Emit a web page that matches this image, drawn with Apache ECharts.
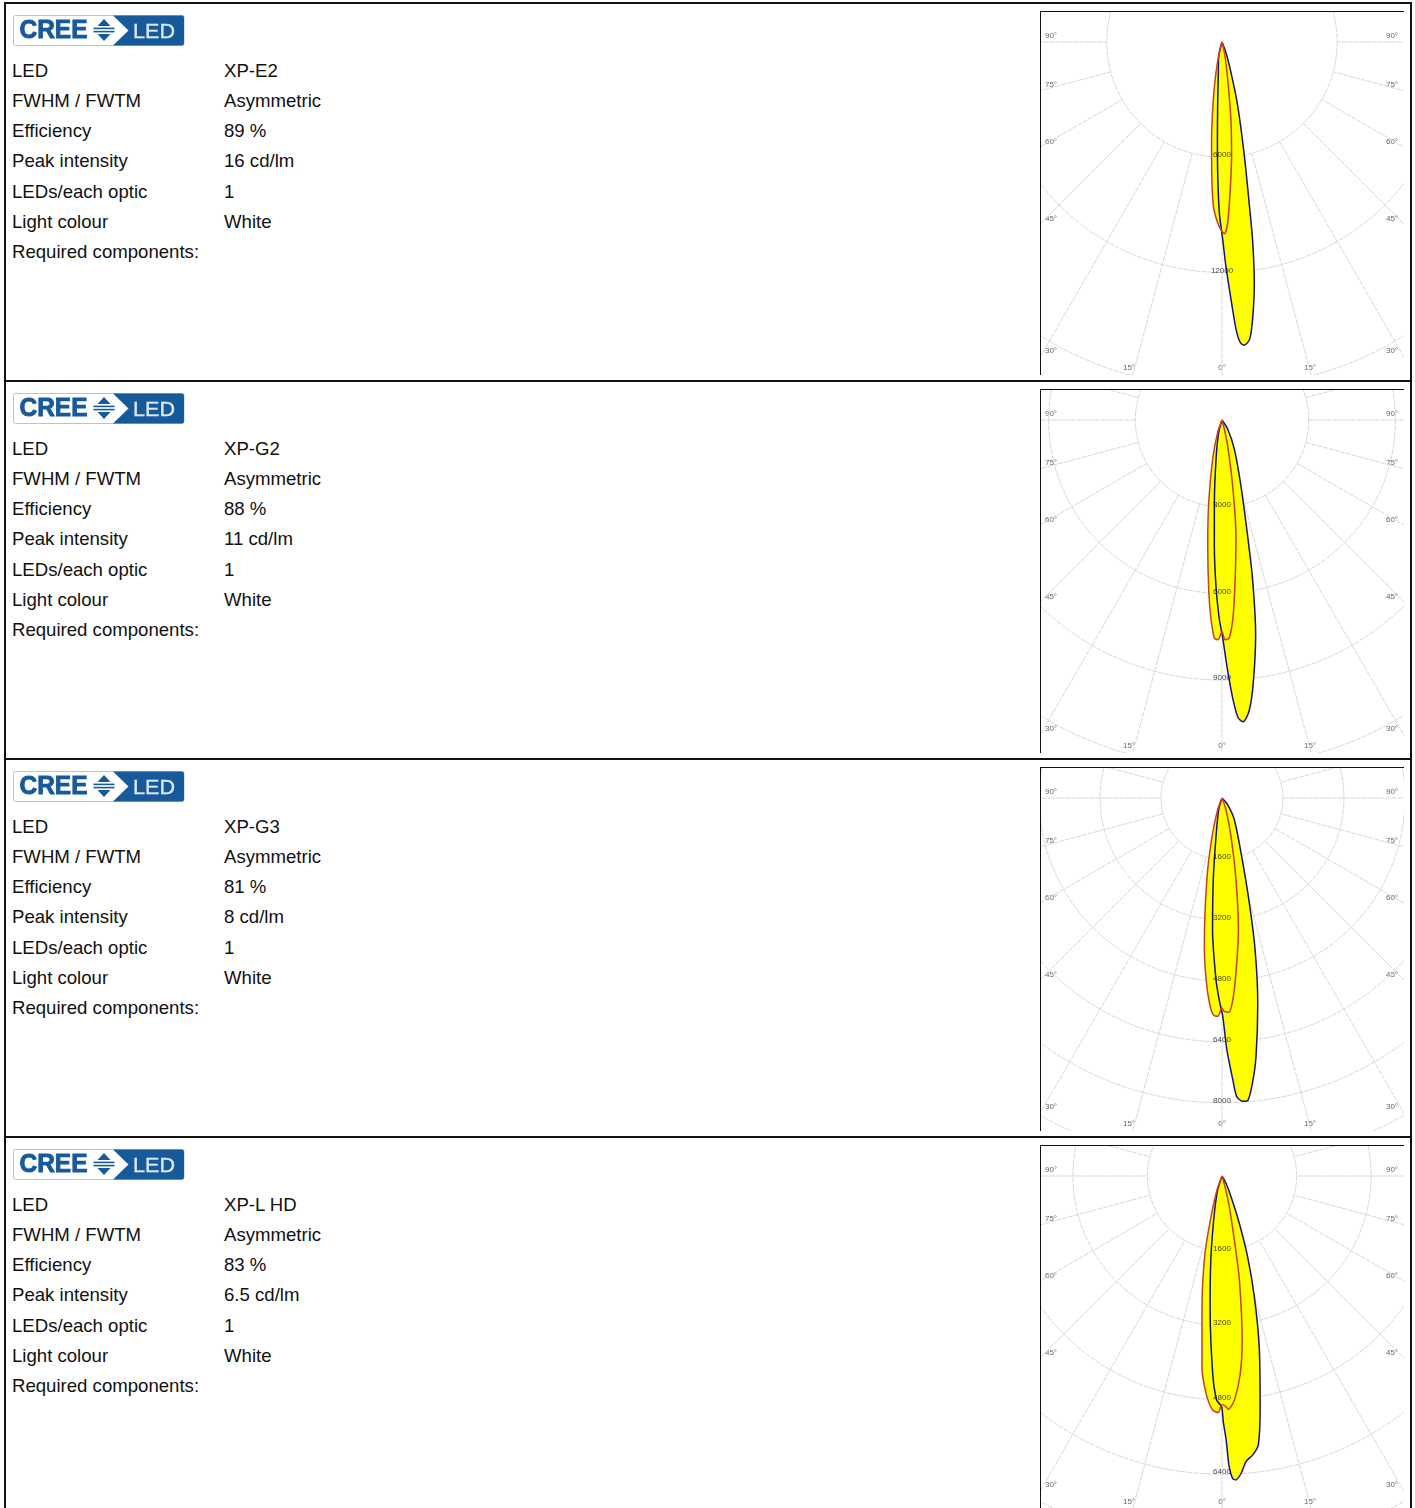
<!DOCTYPE html>
<html>
<head>
<meta charset="utf-8">
<script src="https://cdn.jsdelivr.net/npm/echarts@6/dist/echarts.min.js"></script>
<style>
html,body{margin:0;padding:0;background:#fff;width:1415px;height:1508px;overflow:hidden;font-family:"Liberation Sans",Arial,sans-serif;color:#111}
.abs{position:absolute}
.rule{position:absolute;background:#111}
.t{position:absolute;font-size:18.6px;line-height:20px;white-space:nowrap}
.chart{position:absolute;width:363px;height:363px;border-left:1px solid #111;border-top:1px solid #111;overflow:hidden;background:#fff}
.chart canvas{filter:blur(0.35px)}
</style>
</head>
<body>
<div id="page"></div>
<script>
// ---- table text ----
const fieldLabels = ["LED","FWHM / FWTM","Efficiency","Peak intensity","LEDs/each optic","Light colour","Required components:"];
const ledNames = ["XP-E2","XP-G2","XP-G3","XP-L HD"];
const fwhm = ["Asymmetric","Asymmetric","Asymmetric","Asymmetric"];
const efficiency = ["89 %","88 %","81 %","83 %"];
const peakIntensity = ["16 cd/lm","11 cd/lm","8 cd/lm","6.5 cd/lm"];
const ledsPerOptic = ["1","1","1","1"];
const lightColour = ["White","White","White","White"];

// ---- polar axes ----
const ringStep = [6000,3000,1600,1600];
const ringMax = [24000,15000,11200,9600];
const axisPxPerCd = [0.0192,0.0289,0.0381,0.0466];
const firstRing = [6000,3000,1600,1600];
const ringLabels = [[6000,12000],[3000,6000,9000],[1600,3200,4800,6400,8000],[1600,3200,4800,6400]];

// ---- candela curves: [cd, angle deg] ----
const blue1Angle=[-30,-13.4,-6.8,-3.9,-2.7,-1.9,-0.9,0.2,1.0,2.0,2.8,3.5,4.2,5.3,6.3,7.65,8.8,9.5,11.1,13.8,16.4,20.6,30];
const blue1Cd=[0,746,1615,3333,5069,6805,8888,10277,11683,13402,14982,15693,15832,15555,14530,12638,10399,8663,6059,3437,1667,590,0];
const red1Angle=[-30,-13.4,-11.1,-8.6,-6.1,-4.5,-3.0,-1.4,-0.1,0.8,1.8,3.2,4.8,6.4,8.2,12.1,30];
const red1Cd=[0,746,1632,3021,5104,6822,8558,9409,9843,9982,9409,7690,5954,4236,2309,746,0];

const blue2Angle=[-30,-15.1,-8.7,-5.3,-3.5,-2.0,-0.8,0.2,1.2,2.2,3.1,4.0,5.3,6.7,8.9,10.9,12.5,16.1,23.0,32.2,45];
const blue2Cd=[0,437,1356,2850,4343,5825,6860,7549,8583,9629,10318,10467,10123,9226,7526,5584,4079,2355,1092,368,0];
const red2Angle=[-30,-19.4,-13.5,-9.2,-6.5,-4.4,-3.2,-2.0,-1.0,0,0.8,1.9,3.3,5.2,6.9,9.2,12.4,14.5,30];
const red2Cd=[0,448,1379,2873,4355,5963,6871,7549,7606,7319,7606,7549,6756,5159,4021,2298,908,322,0];

const blue3Angle=[-30,-15.9,-8.9,-6.1,-4.1,-1.9,-0.8,0.2,1.1,2.2,2.8,3.9,4.9,6.1,7.5,9.9,12.3,14.6,19.1,29.6,40.4,55];
const blue3Cd=[0,315,1015,2153,3465,4769,5294,5731,6606,7403,7840,7980,7963,7525,6843,5460,4078,2844,1531,656,228,0];
const red3Angle=[-35,-20.4,-14.9,-11.3,-8.4,-6.8,-5.0,-3.5,-2.3,-1.1,0,0.6,1.8,3.3,5.1,7.1,9.7,13.2,18.9,35];
const red3Cd=[0,324,954,1916,3054,3920,4786,5390,5696,5731,5513,5600,5626,5215,4349,3483,2179,1033,324,0];

const blue4Angle=[-30,-17.2,-11.6,-7.8,-5.2,-2.7,-1.4,-0.4,0,0.3,0.9,1.4,2.0,2.6,3.7,4.8,6.3,7.7,9.4,12.3,15.0,17.6,20.1,23.5,28.6,45];
const blue4Cd=[0,315,815,1745,2817,4240,4805,4912,4984,5270,5663,6235,6492,6528,6392,6149,6020,5820,5012,3747,2681,1816,1080,486,179,0];
const red4Angle=[-35,-19.7,-15.1,-12.4,-8.7,-6.0,-4.2,-2.3,-0.9,-0.1,0.4,1.6,3.2,5.3,7.0,9.5,10.9,13.4,15.7,30];
const red4Cd=[0,322,901,1702,2839,4111,4676,5026,5077,4912,4912,5005,4812,4254,3546,2259,1401,679,236,0];

const blueAngles=[blue1Angle,blue2Angle,blue3Angle,blue4Angle];
const blueCds=[blue1Cd,blue2Cd,blue3Cd,blue4Cd];
const redAngles=[red1Angle,red2Angle,red3Angle,red4Angle];
const redCds=[red1Cd,red2Cd,red3Cd,red4Cd];

// ---- edge labels of the plot (C-plane angles) ----
const leftAngleLabels=["90°","75°","60°","45°","30°"];
const rightAngleLabels=["90°","75°","60°","45°","30°"];
const bottomAngleLabels=["15°","0°","15°"];

// ---- layout ----
const rowPitch=378, page=document.getElementById('page');
function rule(x,y,w,h){const d=document.createElement('div');d.className='rule';d.style.cssText=`left:${x}px;top:${y}px;width:${w}px;height:${h}px`;page.appendChild(d);}
function text(x,y,s){const d=document.createElement('div');d.className='t';d.style.left=x+'px';d.style.top=y+'px';d.textContent=s;page.appendChild(d);}
function logo(x,y){
  const d=document.createElement('div');d.className='abs';d.style.left=x+'px';d.style.top=y+'px';
  d.innerHTML=`<svg width="172" height="32" viewBox="0 0 172 32" style="display:block">
  <defs><filter id="b${y}"><feGaussianBlur stdDeviation="0.4"/></filter></defs>
  <g filter="url(#b${y})">
  <rect x="0.5" y="0.5" width="170.5" height="30" rx="2" fill="#fff" stroke="#a9c6e2"/>
  <path d="M100 0.5H169a2 2 0 0 1 2 2V28.5a2 2 0 0 1-2 2H100L115.5 15.5Z" fill="#195a9c"/>
  <text x="6.5" y="23.3" font-family="Liberation Sans" font-weight="700" font-size="25" fill="#195a9c" textLength="68" lengthAdjust="spacingAndGlyphs" stroke="#195a9c" stroke-width="0.9">CREE</text>
  <path d="M91 4L97.5 11H84.5Z M91 26L97.5 19H84.5Z" fill="#195a9c"/>
  <rect x="80.5" y="12.6" width="21" height="1.6" fill="#195a9c"/><rect x="80.5" y="15.8" width="21" height="1.6" fill="#195a9c"/>
  <text x="120" y="23" font-family="Liberation Sans" font-size="21" fill="#dbe8f4" textLength="42" lengthAdjust="spacingAndGlyphs" stroke="#dbe8f4" stroke-width="0.3">LED</text>
  </g></svg>`;
  page.appendChild(d);
}

// outer table rules
rule(4,2,1408,2);rule(4,2,2,1506);rule(1410,2,2,1506);
[1,2,3].forEach(i=>rule(4,2+rowPitch*i,1408,2));

const rowTextY=[61,91,121,151,182,212,242];
ledNames.forEach((name,i)=>{
  const off=rowPitch*i;
  logo(13,15+off);
  const vals=[name,fwhm[i],efficiency[i],peakIntensity[i],ledsPerOptic[i],lightColour[i]];
  fieldLabels.forEach((lab,j)=>{
    text(12,rowTextY[j]+off,lab);
    if(vals[j]) text(224,rowTextY[j]+off,vals[j]);
  });
  const div=document.createElement('div');div.className='chart';
  div.style.left='1040px';div.style.top=(11+off)+'px';
  page.appendChild(div);
  drawPolar(div,i);
});

function drawPolar(div,i){
  const chart=echarts.init(div,null,{renderer:'canvas',width:363,height:363});
  const cx=181,cy=30,px=axisPxPerCd[i],maxR=ringMax[i]*px,r0=firstRing[i]*px;
  const blue=blueCds[i].map((v,k)=>[v,blueAngles[i][k]]);
  const red=redCds[i].map((v,k)=>[v,redAngles[i][k]]);
  const gridCol='#d6d6d6';
  const angleBase={min:-180,max:180,startAngle:90,clockwise:false,axisLine:{show:false},axisTick:{show:false},axisLabel:{show:false}};
  const serBase={coordinateSystem:'polar',polarIndex:0,symbol:'none',smooth:0.25,silent:true,animation:false,clip:false};
  const gfx=[];
  const lbl=(x,y,s)=>gfx.push({type:'text',x,y,silent:true,style:{text:s,fill:'#666',font:'8px "Liberation Sans"',textAlign:'center',textVerticalAlign:'middle'}});
  const ys=[24,73,130,207,339];
  leftAngleLabels.forEach((s,k)=>lbl(10,ys[k],s));
  rightAngleLabels.forEach((s,k)=>lbl(351,ys[k],s));
  bottomAngleLabels.forEach((s,k)=>lbl([88,181,269][k],356,s));
  chart.setOption({
    animation:false,
    polar:[
      {center:[cx,cy],radius:[0,maxR]},
      {center:[cx,cy],radius:[r0,maxR]}
    ],
    angleAxis:[
      Object.assign({polarIndex:0,splitLine:{show:false}},angleBase),
      Object.assign({polarIndex:1,interval:15,splitLine:{show:true,lineStyle:{color:gridCol,width:1,type:[5,1]}}},angleBase)
    ],
    radiusAxis:[
      {polarIndex:0,min:0,max:ringMax[i],interval:ringStep[i],axisLine:{show:false},axisTick:{show:false},axisLabel:{show:false},
       splitLine:{show:true,lineStyle:{color:gridCol,width:1,type:[5,1]}}},
      {polarIndex:1,min:firstRing[i],max:ringMax[i],axisLine:{show:false},axisTick:{show:false},axisLabel:{show:false},splitLine:{show:false}}
    ],
    series:[
      Object.assign({},serBase,{type:'line',z:3,data:red,lineStyle:{width:0},areaStyle:{color:'#ffff00',opacity:1}}),
      Object.assign({},serBase,{type:'line',z:3,data:blue,lineStyle:{width:0},areaStyle:{color:'#ffff00',opacity:1}}),
      Object.assign({},serBase,{type:'line',z:4,data:blue,lineStyle:{color:'#14147e',width:1.5}}),
      Object.assign({},serBase,{type:'line',z:5,data:red,lineStyle:{color:'#c8401c',width:1.5}}),
      {type:'scatter',coordinateSystem:'polar',polarIndex:0,z:6,silent:true,symbolSize:0,animation:false,
       data:ringLabels[i].map(v=>[v,0]),
       label:{show:true,position:'top',distance:-2,fontSize:8,color:'#111',fontFamily:'Liberation Sans',formatter:p=>String(p.value[0])}}
    ],
    graphic:gfx
  });
}
</script>
</body>
</html>
